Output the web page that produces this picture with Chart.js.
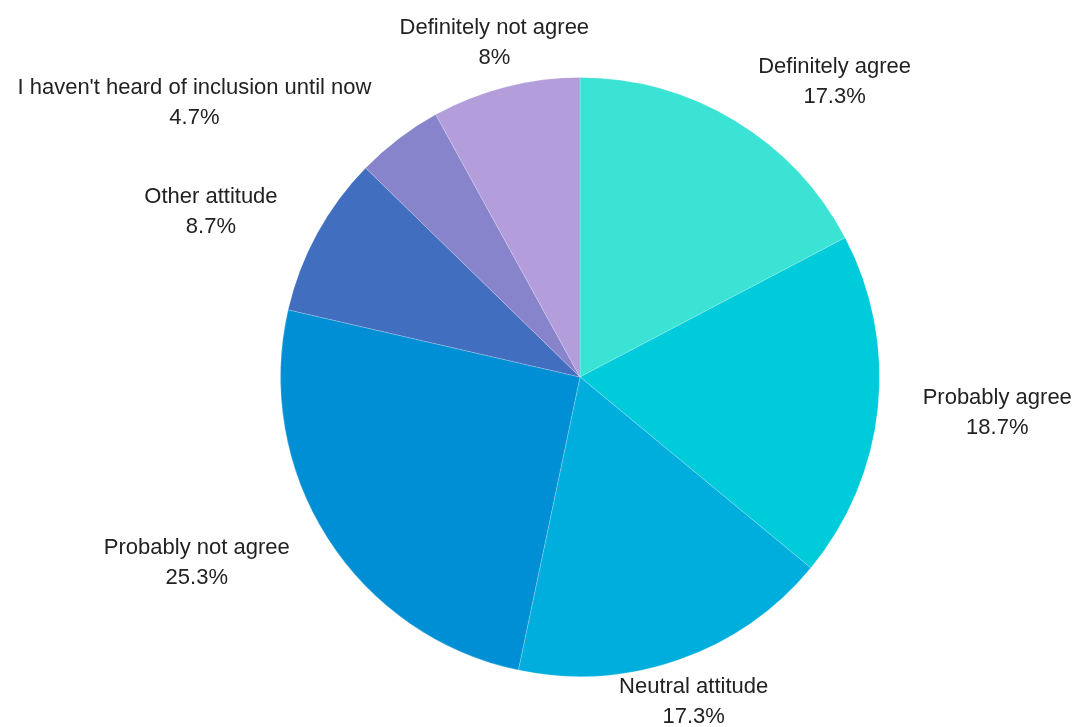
<!DOCTYPE html>
<html>
<head>
<meta charset="utf-8">
<script src="https://cdn.jsdelivr.net/npm/chart.js@4"></script>
<style>
    html, body { margin: 0; padding: 0; background: #fff; font-family: "Liberation Sans", Arial, sans-serif; }
    #wrap { width: 1080px; height: 727px; position: relative; }
</style>
</head>
<body>
<div id="wrap"><canvas id="grafico"></canvas></div>
<script>
const categorias = [
    'Definitely agree',
    'Probably agree',
    'Neutral attitude',
    'Probably not agree',
    'Other attitude',
    "I haven't heard of inclusion until now",
    'Definitely not agree'
];
const percentuais = [17.3, 18.7, 17.3, 25.3, 8.7, 4.7, 8];
const cores = ['#3BE3D5', '#00CBDB', '#00AEDD', '#008FD5', '#426EBF', '#8884CB', '#B39DDA'];

const FONTE = '22px "Liberation Sans", Arial, sans-serif';

// desenha os rótulos fora da pizza
const rotulosExternos = {
    id: 'rotulosExternos',
    afterDatasetsDraw(chart) {
        const ctx = chart.ctx;
        const meta = chart.getDatasetMeta(0);
        ctx.save();
        ctx.font = FONTE;
        ctx.fillStyle = '#222';
        ctx.textBaseline = 'middle';
        ctx.textAlign = 'center';
        meta.data.forEach((arc, i) => {
            const ang = (arc.startAngle + arc.endAngle) / 2;
            const r = arc.outerRadius + 45;
            const x = arc.x + Math.cos(ang) * r;
            const y = arc.y + Math.sin(ang) * r;
            const dx = Math.cos(ang);
            const linhas = [categorias[i], percentuais[i] + '%'];
            const w = Math.max(...linhas.map(l => ctx.measureText(l).width));
            // lados: alinha o bloco pela borda; topo/base: centralizado
            let cx = x;
            if (dx >= 0.4) cx = x + w / 2;
            if (dx <= -0.4) cx = x - w / 2;
            ctx.fillText(linhas[0], cx, y - 15);
            ctx.fillText(linhas[1], cx, y + 15);
        });
        ctx.restore();
    }
};

async function criarGrafico() {
    try {
        await document.fonts.load(FONTE, 'Definitely');
    } catch (e) {
        console.error(e);
    }
    const ctx = document.getElementById('grafico').getContext('2d');
    new Chart(ctx, {
        type: 'pie',
        data: {
            labels: categorias,
            datasets: [{
                data: percentuais,
                backgroundColor: cores,
                borderColor: 'rgba(255,255,255,0.2)',
                borderWidth: 1
            }]
        },
        options: {
            responsive: true,
            maintainAspectRatio: false,
            animation: false,
            layout: { padding: { top: 77, bottom: 50, left: 280, right: 200 } },
            plugins: {
                legend: { display: false },
                tooltip: { enabled: false }
            }
        },
        plugins: [rotulosExternos]
    });
}

document.addEventListener('DOMContentLoaded', criarGrafico);
</script>
</body>
</html>
